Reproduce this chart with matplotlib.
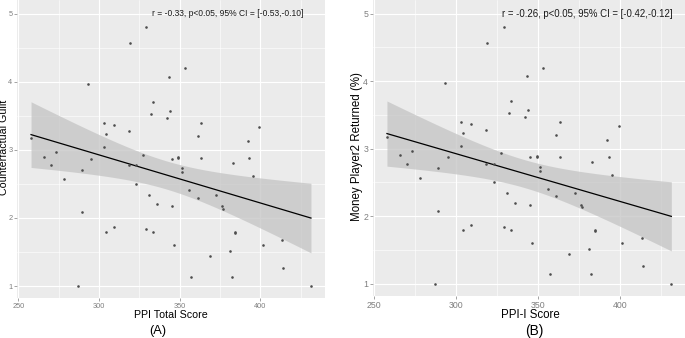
import matplotlib
matplotlib.use("Agg")
import matplotlib.pyplot as plt
import numpy as np

plt.rcParams["font.family"] = ["Liberation Sans", "DejaVu Sans"]

# data (both panels show the same points)
ppi = [257.9, 266.1, 273.2, 270.0, 289.3, 293.2, 295.2, 303.1, 304.2, 303.1,
       309.1, 318.3, 319.2, 318.3, 322.9, 327.3, 329.1, 332.2, 333.3, 342.3,
       343.2, 344.2, 345.3, 349.2, 349.2, 351.2, 353.3, 361.1, 363.2, 363.2,
       383.2, 392.1, 393.1, 399.3, 278.3, 289.3, 287.0, 304.3, 309.1, 322.9,
       329.1, 331.2, 333.3, 336.1, 345.3, 346.3, 351.2, 356.0, 357.2, 361.1,
       369.0, 372.3, 376.0, 377.0, 381.2, 382.2, 384.5, 384.5, 395.4, 401.4,
       413.4, 414.2, 431.3]
score = [3.18, 2.90, 2.97, 2.78, 2.71, 3.97, 2.87, 3.40, 3.23, 3.04,
         3.37, 3.27, 4.57, 2.78, 2.77, 2.93, 4.80, 3.53, 3.70, 3.47,
         4.07, 3.57, 2.87, 2.89, 2.88, 2.73, 4.20, 3.20, 3.40, 2.88,
         2.81, 3.13, 2.88, 3.33, 2.57, 2.08, 1.00, 1.80, 1.87, 2.50,
         1.84, 2.34, 1.80, 2.20, 2.17, 1.60, 2.67, 2.41, 1.14, 2.30,
         1.44, 2.34, 2.17, 2.13, 1.51, 1.14, 1.80, 1.78, 2.61, 1.60,
         1.68, 1.27, 1.00]

# layout in pixels: axes box, label spots and font sizes per panel
panels = [
    {"xlabel": "PPI Total Score", "ylabel": "Counterfactual Guilt", "tag": "(A)",
     "note": "r = -0.33, p<0.05, 95% CI = [-0.53,-0.10]",
     "box": (17.3, 298.3, 307.7), "note_x": 228, "note_fs": 6.15,
     "ylab_x": 4.5, "xlab_x": 171, "tag_x": 158,
     "lab_fs": 7.7, "tag_fs": 9.2, "tick_fs": 5.3},
    {"xlabel": "PPI-I Score", "ylabel": "Money Player2 Returned (%)", "tag": "(B)",
     "note": "r = -0.26, p<0.05, 95% CI = [-0.42,-0.12]",
     "box": (373.0, 296.0, 312.6), "note_x": 587, "note_fs": 6.9,
     "ylab_x": 357, "xlab_x": 530, "tag_x": 534,
     "lab_fs": 8.3, "tag_fs": 9.9, "tick_fs": 6.3},
]

W, H = 685, 338
fig = plt.figure(figsize=(W / 100, H / 100), dpi=100)

x = np.array(ppi)
y = np.array(score)
n = len(x)
slope, icpt = np.polyfit(x, y, 1)
resid = y - (slope * x + icpt)
s = np.sqrt(np.sum(resid ** 2) / (n - 2))
xs = np.linspace(x.min(), x.max(), 100)
fit = slope * xs + icpt
se = s * np.sqrt(1 / n + (xs - x.mean()) ** 2 / np.sum((x - x.mean()) ** 2))
tval = 2.003

for p in panels:
    left, h, w = p["box"]
    ax = fig.add_axes([left / W, (H - h) / H, w / W, h / H])
    ax.set_facecolor("#EBEBEB")
    for sp in ax.spines.values():
        sp.set_visible(False)
    ax.set_xlim(249.4, 440)
    ax.set_ylim(0.82, 5.2)
    ax.set_xticks([250, 300, 350, 400])
    ax.set_yticks([1, 2, 3, 4, 5])
    ax.set_xticks([275, 325, 375, 425], minor=True)
    ax.set_yticks([1.5, 2.5, 3.5, 4.5], minor=True)
    ax.grid(True, which="major", color="white", linewidth=0.8)
    ax.grid(True, which="minor", color="white", linewidth=0.4)
    ax.set_axisbelow(True)
    ax.tick_params(which="major", length=2, width=0.5, color="#7F7F7F",
                   labelsize=p["tick_fs"], labelcolor="#7F7F7F", pad=1.5)
    ax.tick_params(which="minor", length=0)

    ax.fill_between(xs, fit - tval * se, fit + tval * se, color="#C4C4C4",
                    alpha=0.75, linewidth=0, zorder=2)
    ax.plot(xs, fit, color="black", linewidth=0.9, zorder=3)
    ax.scatter(x, y, s=3.5, color="#4D4D4D", zorder=4, linewidths=0)

    fig.text(p["note_x"] / W, 1 - 14 / H, p["note"], ha="center",
             va="center", fontsize=p["note_fs"], color="#1A1A1A")
    fig.text(p["ylab_x"] / W, 1 - 147 / H, p["ylabel"], rotation=90,
             ha="center", va="center", fontsize=p["lab_fs"])
    fig.text(p["xlab_x"] / W, 1 - 314.5 / H, p["xlabel"], ha="center",
             va="center", fontsize=p["lab_fs"])
    fig.text(p["tag_x"] / W, 1 - 331 / H, p["tag"], ha="center", va="center",
             fontsize=p["tag_fs"])

fig.savefig("out.png", dpi=100)
